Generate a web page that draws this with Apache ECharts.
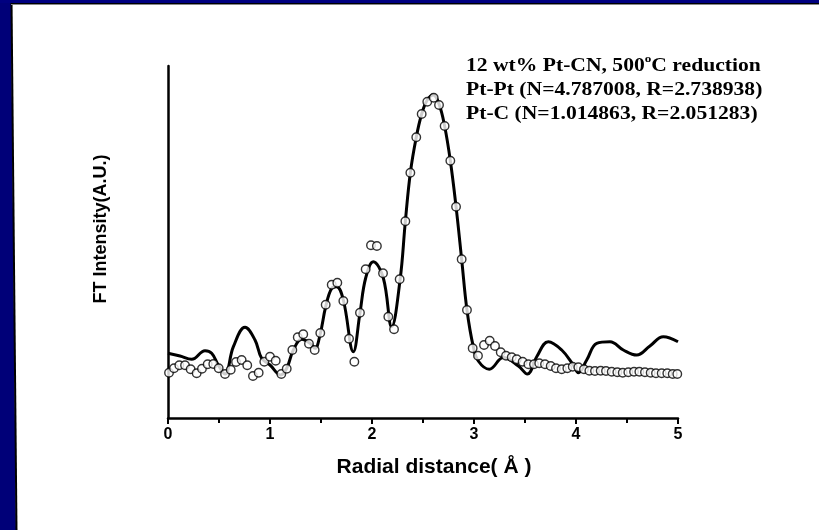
<!DOCTYPE html>
<html><head><meta charset="utf-8">
<script src="https://cdn.jsdelivr.net/npm/echarts@6/dist/echarts.min.js"></script>
<style>html,body{margin:0;padding:0;background:#fff}#c{width:819px;height:530px}</style>
</head><body><div id="c"></div>
<script>
// Experimental data (open circles): [R (Å), FT intensity (a.u.)]
var expData = [
[0.010,45.3],[0.059,49.7],[0.111,52.7],[0.167,52.7],[0.222,48.7],[0.281,44.7],[0.333,49.3],[0.389,53.7],
[0.444,54.0],[0.497,49.7],[0.559,44.0],[0.615,48.3],[0.667,56.0],[0.722,58.0],[0.777,52.7],[0.833,42.0],
[0.889,45.3],[0.944,56.3],[1.000,61.3],[1.056,57.3],[1.111,44.0],[1.164,49.3],[1.219,68.0],[1.272,80.7],
[1.326,83.7],[1.382,74.3],[1.438,68.0],[1.493,85.0],[1.546,113.3],[1.605,133.3],[1.660,135.3],[1.719,117.0],
[1.775,79.3],[1.827,56.3],[1.882,105.3],[1.938,148.7],[1.990,172.7],[2.048,172.0],[2.108,144.7],[2.160,101.3],
[2.216,88.7],[2.271,138.7],[2.327,196.7],[2.376,245.3],[2.434,280.7],[2.487,304.0],[2.542,316.3],[2.605,320.3],
[2.657,313.0],[2.712,292.0],[2.768,257.3],[2.824,211.3],[2.879,158.7],[2.931,108.0],[2.987,69.7],[3.039,62.3],
[3.098,73.0],[3.154,77.3],[3.206,72.0],[3.262,65.7],[3.314,62.3],[3.370,60.7],[3.419,58.7],[3.477,56.3],
[3.533,53.7],[3.588,53.7],[3.640,54.7],[3.696,53.7],[3.752,52.0],[3.804,49.7],[3.860,48.7],[3.915,49.7],
[3.968,51.3],[4.023,50.7],[4.078,48.7],[4.131,47.3],[4.186,47.0],[4.242,47.3],[4.294,47.0],[4.350,46.3],
[4.405,45.7],[4.458,45.3],[4.513,45.7],[4.569,46.3],[4.621,46.3],[4.676,45.7],[4.732,45.3],[4.784,44.7],
[4.840,44.7],[4.895,44.7],[4.948,44.0],[4.993,44.0]
];
// Fit (solid line)
var fitData = [
[0.000,64.7],[0.118,62.0],[0.232,58.7],[0.363,67.3],[0.428,64.7],[0.493,53.0],[0.559,44.0],[0.641,71.3],
[0.755,90.7],[0.853,78.0],[0.918,59.7],[1.000,53.0],[1.105,43.0],[1.164,49.7],[1.229,68.0],[1.311,78.7],
[1.392,74.7],[1.441,69.7],[1.490,83.0],[1.546,111.3],[1.605,129.7],[1.653,131.3],[1.719,118.0],[1.817,66.3],
[1.882,105.0],[1.938,140.0],[2.013,156.3],[2.111,140.0],[2.193,91.3],[2.275,138.0],[2.327,196.7],[2.376,245.3],
[2.434,280.7],[2.487,304.0],[2.542,318.0],[2.601,323.0],[2.657,314.0],[2.712,292.0],[2.768,257.3],[2.824,211.3],
[2.879,158.7],[2.931,108.0],[2.993,71.3],[3.042,57.0],[3.150,48.7],[3.288,60.5],[3.435,52.0],[3.523,44.0],
[3.615,61.3],[3.729,76.3],[3.860,68.0],[3.974,53.0],[4.023,45.3],[4.105,58.0],[4.203,74.7],[4.333,76.3],
[4.464,68.0],[4.595,63.0],[4.725,72.0],[4.856,81.3],[5.000,76.3]
];
var xTicks = [0, 1, 2, 3, 4, 5];
var xName = 'Radial distance( Å )';
var yName = 'FT Intensity(A.U.)';
var annoLines = ['12 wt% Pt-CN, 500{sup|o}C reduction', 'Pt-Pt (N=4.787008, R=2.738938)', 'Pt-C (N=1.014863, R=2.051283)'];

var chart = echarts.init(document.getElementById('c'));
var sans = '"Liberation Sans", Arial, sans-serif';
var serif = '"Liberation Serif", "Times New Roman", serif';
chart.setOption({
  animation: false,
  backgroundColor: '#ffffff',
  grid: {left: 168, right: 141, top: 66, bottom: 112},
  xAxis: {
    type: 'value', min: 0, max: 5, interval: 1,
    axisLine: {lineStyle: {color: '#000', width: 2.5}},
    axisTick: {show: true, inside: false, length: 6, lineStyle: {color: '#000', width: 2}},
    minorTick: {show: true, splitNumber: 2, length: 5, lineStyle: {color: '#000', width: 2}},
    axisLabel: {fontFamily: sans, fontWeight: 'bold', fontSize: 16, color: '#000', margin: 9,
      formatter: function (v) { return xTicks.indexOf(v) >= 0 ? String(v) : ''; }},
    splitLine: {show: false}
  },
  yAxis: {
    type: 'value', min: 0, max: 352,
    axisLine: {show: true, lineStyle: {color: '#000', width: 2.5}},
    axisTick: {show: false}, axisLabel: {show: false}, splitLine: {show: false}
  },
  graphic: [
    {type: 'polygon', shape: {points: [[0, 0], [11, 0], [16, 530], [0, 530]]}, style: {fill: '#000078'}, z: 100},
    {type: 'polyline', shape: {points: [[11.5, 0], [16.5, 530]]}, style: {stroke: '#000', lineWidth: 2}, z: 100},
    {type: 'rect', shape: {x: 0, y: 0, width: 819, height: 3}, style: {fill: '#000080'}, z: 100},
    {type: 'rect', shape: {x: 11, y: 3, width: 808, height: 1}, style: {fill: '#000'}, z: 100},
    {type: 'rect', shape: {x: 11, y: 4, width: 808, height: 1}, style: {fill: '#888'}, z: 100},
    {type: 'text', x: 466, y: 54, scaleX: 1.2, z: 100,
      style: {text: annoLines.join('\n'), fontFamily: serif, fontWeight: 'bold', fontSize: 18, lineHeight: 24, fill: '#000',
        rich: {sup: {fontFamily: serif, fontWeight: 'bold', fontSize: 11, verticalAlign: 'top', lineHeight: 24, padding: [0, 0, 9, 0]}}}},
    {type: 'text', x: 434, y: 467, z: 100,
      style: {text: xName, fontFamily: sans, fontWeight: 'bold', fontSize: 21, fill: '#000', align: 'center', verticalAlign: 'middle'}},
    {type: 'text', x: 101, y: 229, rotation: Math.PI / 2, z: 100,
      style: {text: yName, fontFamily: sans, fontWeight: 'bold', fontSize: 18, fill: '#000', align: 'center', verticalAlign: 'middle'}}
  ],
  series: [
    {type: 'line', data: fitData, smooth: 0.4, showSymbol: false, symbol: 'none',
      lineStyle: {color: '#000', width: 3}, z: 2},
    {type: 'scatter', data: expData, symbol: 'circle', symbolSize: 8.5,
      itemStyle: {color: '#fff', borderColor: '#000', borderWidth: 1.4}, z: 3}
  ]
});
</script></body></html>
